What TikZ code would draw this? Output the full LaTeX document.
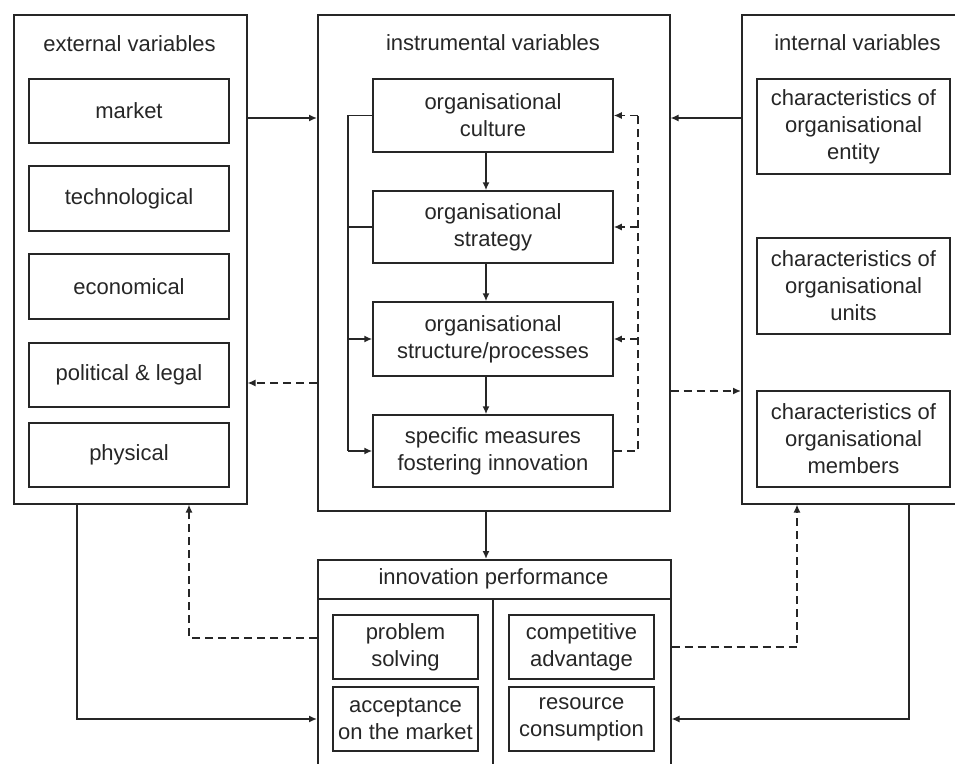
\documentclass[tikz,border=0pt]{standalone}
\usepackage{fontspec}
\setmainfont{Liberation Sans}
\usetikzlibrary{arrows.meta}
\begin{document}
\begin{tikzpicture}[x=1pt,y=-1pt,
  ln/.style={line width=1.5pt, draw=black!85},
  box/.style={ln, rectangle, inner sep=0pt, align=center, font=\fontsize{22}{27}\selectfont, text=black!85},
  frame/.style={ln, rectangle, inner sep=0pt},
  ttl/.style={inner sep=0pt, font=\fontsize{22}{27}\selectfont, text=black!85},
  arr/.style={ln, -{Latex[length=8pt,width=7pt]}},
  darr/.style={arr, dash pattern=on 8pt off 5pt},
  dln/.style={ln, dash pattern=on 8pt off 5pt}
]
\useasboundingbox (0,0) rectangle (955,763);
\clip (0,0) rectangle (955,763);

% external variables
\node[frame, anchor=north west, minimum width=233pt, minimum height=489pt] (ext) at (13,14) {};
\node[ttl] (extT) at (129.5,44) {external variables};
\node[box, minimum width=200pt, minimum height=64pt] (market) at (129,111) {market};
\node[box, minimum width=200pt, minimum height=65pt] (techno) at (129,198.5) {technological};
\node[box, minimum width=200pt, minimum height=65pt] (econ) at (129,286.5) {economical};
\node[box, minimum width=200pt, minimum height=64pt] (polit) at (129,375) {political \& legal};
\node[box, minimum width=200pt, minimum height=64pt] (phys) at (129,455) {physical};

% instrumental variables
\node[frame, anchor=north west, minimum width=352pt, minimum height=496pt] (mid) at (317,14) {};
\node[ttl] (midT) at (493,43) {instrumental variables};
\node[box, minimum width=240pt, minimum height=73pt] (culture) at (493,115.5) {organisational\\culture};
\node[box, minimum width=240pt, minimum height=72pt] (strategy) at (493,227) {organisational\\strategy};
\node[box, minimum width=240pt, minimum height=74pt] (structure) at (493,339) {organisational\\structure/processes};
\node[box, minimum width=240pt, minimum height=72pt] (specific) at (493,451) {specific measures\\fostering innovation};

% internal variables
\node[frame, anchor=north west, minimum width=225pt, minimum height=489pt] (int) at (741,14) {};
\node[ttl] (intT) at (857.5,43) {internal variables};
\node[box, minimum width=193pt, minimum height=95pt] (entity) at (853.5,126.5) {characteristics of\\organisational\\entity};
\node[box, minimum width=193pt, minimum height=96pt] (units) at (853.5,286) {characteristics of\\organisational\\units};
\node[box, minimum width=193pt, minimum height=96pt] (members) at (853.5,439) {characteristics of\\organisational\\members};

% innovation performance
\node[frame, anchor=north west, minimum width=353pt, minimum height=260pt] (innov) at (317,559) {};
\node[ttl] (innT) at (493.5,579) {innovation performance};
\coordinate (hdr) at (0,599);
\draw[ln] (innov.west |- hdr) -- (innov.east |- hdr);
\coordinate (dv) at (493,599);
\draw[ln] (dv) -- (innov.south -| dv);
\node[box, minimum width=145pt, minimum height=64pt] (problem) at (405.5,647) {problem\\solving};
\node[box, minimum width=145pt, minimum height=64pt] (accept) at (405.5,719) {acceptance\\on the market};
\node[box, minimum width=145pt, minimum height=64pt] (compet) at (581.5,647) {competitive\\advantage};
\node[box, minimum width=145pt, minimum height=64pt] (resource) at (581.5,719) {resource\\consumption};

% connectors between frames
\coordinate (yA) at (0,118);
\draw[arr] (ext.east |- yA) -- (mid.west |- yA);
\draw[arr] (int.west |- yA) -- (mid.east |- yA);
\coordinate (yB) at (0,383);
\draw[darr] (mid.west |- yB) -- (ext.east |- yB);
\coordinate (yC) at (0,391);
\draw[darr] (mid.east |- yC) -- (int.west |- yC);

% chain inside instrumental variables
\coordinate (ax) at (486,0);
\draw[arr] (culture.south -| ax) -- (strategy.north -| ax);
\draw[arr] (strategy.south -| ax) -- (structure.north -| ax);
\draw[arr] (structure.south -| ax) -- (specific.north -| ax);
\draw[arr] (mid.south -| ax) -- (innov.north -| ax);

% left bracket
\coordinate (bx) at (348,0);
\draw[ln] (culture.west) -- (culture.west -| bx) -- (specific.west -| bx);
\draw[ln] (strategy.west) -- (strategy.west -| bx);
\draw[arr] (structure.west -| bx) -- (structure.west);
\draw[arr] (specific.west -| bx) -- (specific.west);

% right dashed feedback
\coordinate (rx) at (638,0);
\draw[dln] (specific.east) -- (specific.east -| rx) -- (culture.east -| rx);
\draw[darr] (culture.east -| rx) -- (culture.east);
\draw[darr] (strategy.east -| rx) -- (strategy.east);
\draw[darr] (structure.east -| rx) -- (structure.east);

% bottom loops
\coordinate (lx) at (77,0);
\coordinate (yD) at (0,719);
\draw[arr] (ext.south -| lx) -- (lx |- yD) -- (innov.west |- yD);
\coordinate (dlx) at (189,0);
\coordinate (yE) at (0,638);
\draw[darr] (innov.west |- yE) -- (dlx |- yE) -- (ext.south -| dlx);
\coordinate (drx) at (797,0);
\coordinate (yF) at (0,647);
\draw[darr] (innov.east |- yF) -- (drx |- yF) -- (int.south -| drx);
\coordinate (rlx) at (909,0);
\draw[arr] (int.south -| rlx) -- (rlx |- yD) -- (innov.east |- yD);
\end{tikzpicture}
\end{document}
